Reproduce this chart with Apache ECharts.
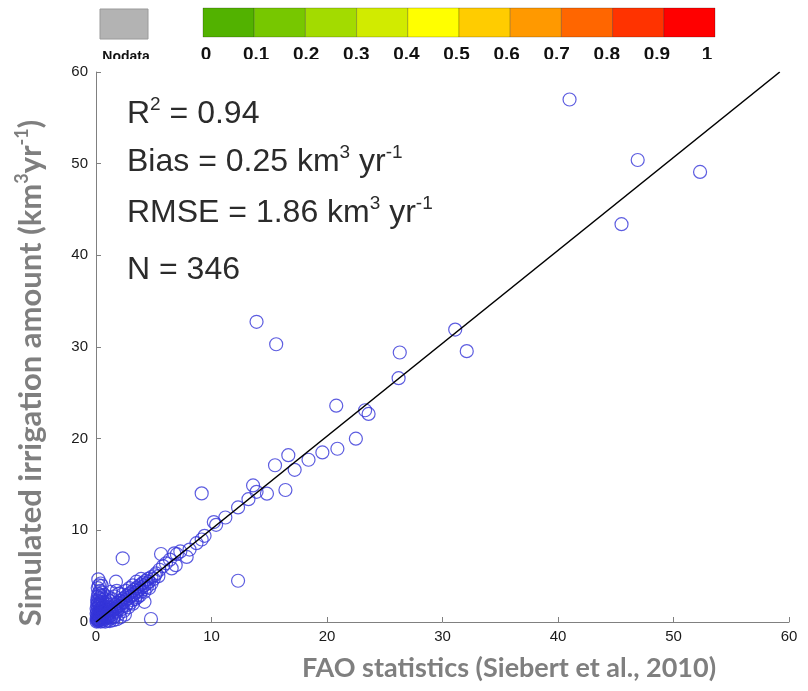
<!DOCTYPE html>
<html>
<head>
<meta charset="utf-8">
<script src="https://cdn.jsdelivr.net/npm/echarts@6/dist/echarts.min.js"></script>
<style>
html,body{margin:0;padding:0;background:#fff;}
#chart{width:808px;height:691px;}
</style>
</head>
<body>
<div id="chart"></div>
<script>
// ---- data ----
var xTicks = [0, 10, 20, 30, 40, 50, 60];
var yTicks = [0, 10, 20, 30, 40, 50, 60];
var colorbarLabels = ['0', '0.1', '0.2', '0.3', '0.4', '0.5', '0.6', '0.7', '0.8', '0.9', '1'];
var colorbarColors = ['#52b200', '#77c700', '#a3db00', '#d1eb00', '#ffff00', '#ffcc00', '#ff9900', '#ff6600', '#ff3300', '#ff0000'];
var statLines = ['R2 = 0.94', 'Bias = 0.25 km3 yr-1', 'RMSE = 1.86 km3 yr-1', 'N = 346'];
var fitLine = [[0, 0], [59.2, 60]];

var clusterPts = [
  [0.05,0.05],[0.1,0.15],[0.2,0.1],[0.3,0.2],[0.05,0.35],[0.15,0.45],[0.25,0.55],[0.1,0.7],[0.3,0.75],[0.05,0.9],
  [0.2,1.0],[0.35,1.05],[0.1,1.2],[0.25,1.3],[0.05,1.45],[0.4,1.45],[0.15,1.6],[0.3,1.75],[0.1,1.9],[0.2,2.1],
  [0.4,2.2],[0.1,2.4],[0.3,2.55],[0.15,2.75],[0.45,2.9],[0.2,3.1],[0.35,3.4],[0.15,3.7],[0.5,3.95],[0.2,4.65],
  [0.72,2.94],[0.4,4.2],
  [0.4,0.05],[0.6,0.1],[0.8,0.05],[1.0,0.15],[1.2,0.1],[1.5,0.2],[1.8,0.3],[0.7,0.3],[0.9,0.4],[1.3,0.45],
  [2.1,0.5],[2.5,0.8],[1.6,0.6],
  [0.5,0.5],[0.6,0.7],[0.7,0.9],[0.8,0.6],[0.9,1.1],[1.0,0.8],[1.1,1.3],[1.2,1.0],[1.3,1.5],[1.4,1.2],
  [1.5,1.7],[1.6,1.4],[1.7,1.9],[1.8,1.6],[1.9,2.1],[2.0,1.8],[2.1,2.3],[2.2,2.0],[2.3,2.5],[2.4,2.2],
  [2.5,2.7],[2.6,2.4],[2.7,2.9],[2.8,2.6],[2.9,3.1],[3.0,2.8],[3.1,3.3],[3.2,3.0],[3.3,3.5],[3.4,3.2],
  [3.5,3.7],[3.6,3.4],[3.7,3.9],[3.8,3.6],[3.9,4.1],[4.0,3.8],[4.1,4.3],[4.2,4.0],[4.3,4.5],[4.4,4.2],
  [4.5,4.7],[4.6,4.4],[4.8,4.9],[5.0,4.7],[5.2,5.3],[5.4,5.0],
  [0.6,1.3],[0.8,1.6],[1.0,1.9],[1.2,2.3],[1.4,2.5],[1.6,2.8],[1.1,2.7],[0.9,2.2],[1.73,4.4],[2.0,3.1],
  [1.8,3.4],[2.3,3.0],[2.6,3.4],[2.9,3.7],[3.2,4.0],[3.5,4.4],[3.9,4.7],[2.31,6.95],[1.3,3.3],
  [1.0,0.5],[1.4,0.8],[1.8,1.1],[2.2,1.4],[2.6,1.8],[3.0,2.1],[3.4,2.5],[3.8,2.9],[4.2,3.3],[2.4,1.2],
  [2.8,1.6],[3.2,2.0],[4.2,2.2],[4.76,0.33],[2.0,0.9],[1.5,0.5],[3.6,2.7],[4.6,3.7],
  [0.2,0.3],[0.4,0.4],[0.3,0.6],[0.5,0.25],[0.6,0.45],[0.45,0.8],[0.55,1.0],[0.35,1.25],[0.7,1.1],[0.25,1.9],
  [0.5,1.6],[0.65,1.8],[0.85,1.4],[1.05,1.6],[0.5,2.4],[0.75,2.5],
  [0.15,0.25],[0.35,0.35],[0.25,0.85],[0.45,1.15],[0.15,2.25],[0.35,2.0],[0.6,2.1],[0.3,3.0],[0.55,3.2],[0.25,4.0],
  [0.95,0.75],[1.15,0.6],[1.7,1.2],[1.9,1.4],[2.3,1.7],[2.7,2.0],[3.1,2.4],[3.5,2.9],[3.9,3.3],[4.4,3.8]
];
var midPts = [
  [5.5,5.7],[5.8,6.1],[6.55,5.85],[6.4,6.8],[5.1,5.1],[4.8,4.2],[7.0,7.4],[7.3,7.7],[7.85,7.1],[8.1,7.9],
  [8.7,8.6],[9.15,9.0],[9.4,9.4],[10.4,10.6],[10.2,10.9],[11.2,11.4],[12.3,12.5],[13.2,13.4],[13.9,14.2],[13.6,14.9],
  [14.8,14.0],[16.4,14.4],[15.5,17.1],[17.2,16.6],[9.15,14.03],[12.3,4.5],[5.63,7.42],[6.78,7.49],[6.06,6.4],[6.9,6.2]
];
var highPts = [
  [13.9,32.75],[15.6,30.3],[31.1,31.9],[32.1,29.55],[26.3,29.4],[26.2,26.6],[20.8,23.6],[23.3,23.1],[23.6,22.7],[22.5,20.0],
  [20.9,18.9],[19.6,18.5],[18.4,17.7],[16.65,18.2],
  [41.0,57.0],[46.9,50.4],[45.5,43.4],[52.3,49.1]
];
var allPts = clusterPts.concat(midPts, highPts);

// ---- chart ----
var chart = echarts.init(document.getElementById('chart'), null, {renderer: 'canvas'});

var mainFont = '"Liberation Sans", Arial, sans-serif';
var titleFont = 'Lato, "Open Sans", sans-serif';
var richStat = {
  m: {fontSize: 32, fontFamily: mainFont, fill: '#2b2b2b', lineHeight: 38},
  s: {fontSize: 19, fontFamily: mainFont, fill: '#2b2b2b', lineHeight: 19, verticalAlign: 'top'}
};
function statText(str) {
  var t = str;
  if (t.indexOf('R2') === 0) return '{m|R}{s|2}{m|' + t.slice(2) + '}';
  if (t.indexOf('km3 yr-1') >= 0) return '{m|' + t.replace('km3 yr-1', 'km') + '}{s|3}{m| yr}{s|-1}';
  return '{m|' + t + '}';
}
var statY = [114, 162, 213, 270];

var graphics = [];
// Nodata box
graphics.push({type: 'rect', shape: {x: 100, y: 9, width: 48, height: 30},
  style: {fill: '#b3b3b3', stroke: '#9a9a9a', lineWidth: 1}, z: 10});
graphics.push({type: 'text', x: 126, y: 50, style: {text: 'Nodata', font: 'bold 14px ' + mainFont,
  fill: '#111', align: 'center', verticalAlign: 'top'}, z: 10});
// colorbar
var cbX0 = 203, cbW = 51.2;
colorbarColors.forEach(function (c, i) {
  graphics.push({type: 'rect', shape: {x: cbX0 + i * cbW, y: 8, width: cbW, height: 29},
    style: {fill: c, stroke: 'rgba(0,0,0,0.22)', lineWidth: 1}, z: 10});
});
colorbarLabels.forEach(function (l, i) {
  graphics.push({type: 'text', x: 206 + i * 50.1, y: 45, style: {text: l, font: 'bold 19px ' + mainFont,
    fill: '#111', align: 'center', verticalAlign: 'top'}, z: 10});
});
// white mask that clips the bottom of the colorbar labels
graphics.push({type: 'rect', shape: {x: 60, y: 59, width: 700, height: 7}, style: {fill: '#fff'}, z: 20});
// statistics text
statLines.forEach(function (s, i) {
  graphics.push({type: 'text', x: 127, y: statY[i], style: {text: statText(s), rich: richStat,
    align: 'left', verticalAlign: 'middle'}, z: 10});
});
// axis titles
var yTitleRich = {
  t: {fontSize: 31, fontWeight: 'bold', fontFamily: titleFont, fill: '#7f7f7f', lineHeight: 36},
  u: {fontSize: 18, fontWeight: 'bold', fontFamily: titleFont, fill: '#7f7f7f', lineHeight: 18, verticalAlign: 'top'}
};
var xTitleRich = {
  t: {fontSize: 27, fontWeight: 'bold', fontFamily: titleFont, fill: '#7f7f7f', lineHeight: 32}
};
graphics.push({type: 'text', x: 31, y: 373, rotation: Math.PI / 2,
  style: {text: '{t|Simulated irrigation amount (km}{u|3}{t|yr}{u|-1}{t|)}', rich: yTitleRich,
    align: 'center', verticalAlign: 'middle'}, z: 10});
graphics.push({type: 'text', x: 509, y: 668,
  style: {text: '{t|FAO statistics (Siebert et al., 2010)}', rich: xTitleRich,
    align: 'center', verticalAlign: 'middle'}, z: 10});

var axisCommon = {
  type: 'value', min: 0, max: 60, interval: 10,
  axisLine: {show: true, lineStyle: {color: '#808080', width: 1}},
  axisTick: {show: true, inside: true, length: 5, lineStyle: {color: '#808080'}},
  splitLine: {show: false},
  axisLabel: {fontSize: 15, color: '#1a1a1a', fontFamily: mainFont, margin: 8}
};

chart.setOption({
  animation: false,
  backgroundColor: '#fff',
  grid: {left: 96, right: 19, top: 72, bottom: 69, containLabel: false},
  xAxis: Object.assign({}, axisCommon, {axisLabel: Object.assign({}, axisCommon.axisLabel, {margin: 7})}),
  yAxis: Object.assign({}, axisCommon),
  graphic: graphics,
  series: [
    {
      type: 'scatter',
      data: allPts,
      symbol: 'circle',
      symbolSize: 13,
      itemStyle: {color: 'rgba(0,0,0,0)', borderColor: '#3535d8', borderWidth: 1.2},
      silent: true,
      z: 2
    },
    {
      type: 'line',
      data: fitLine,
      symbol: 'none',
      lineStyle: {color: '#000', width: 1.6},
      silent: true,
      z: 3
    }
  ]
});
</script>
</body>
</html>
